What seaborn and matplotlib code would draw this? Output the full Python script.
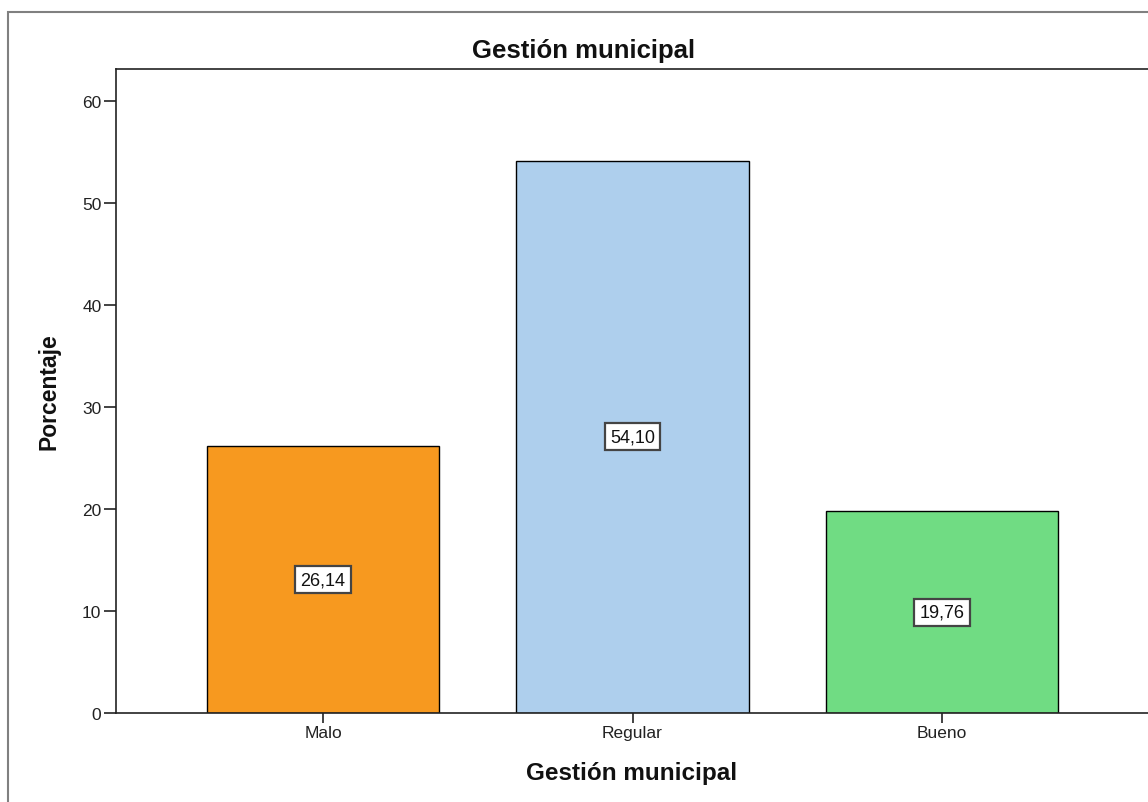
import matplotlib
matplotlib.use("Agg")
import matplotlib.pyplot as plt
import matplotlib.patches as mpatches
import seaborn as sns
import pandas as pd

# Data
categorias = ["Malo", "Regular", "Bueno"]
porcentajes = [26.14, 54.10, 19.76]
colores = ["#F7991F", "#AECFED", "#70DC83"]
y_ticks = [0, 10, 20, 30, 40, 50, 60]

df = pd.DataFrame({"categoria": categorias, "porcentaje": porcentajes})

sns.set_theme(style="white")
plt.rcParams["font.family"] = ["Liberation Sans", "DejaVu Sans"]

W, H = 1148, 803
fig = plt.figure(figsize=(W / 100, H / 100), dpi=100)
ax = fig.add_axes([116 / W, 1 - 714 / H, (1149 - 116) / W, (714 - 70) / H])

sns.barplot(data=df, x="categoria", y="porcentaje", hue="categoria",
            palette=colores, order=categorias, hue_order=categorias,
            width=0.75, edgecolor="black", linewidth=1.0, saturation=1,
            legend=False, ax=ax)

ax.set_xlim(-0.669, 2.669)
ax.set_ylim(0, 63.1)
ax.set_yticks(y_ticks)
ax.set_yticklabels([str(v) for v in y_ticks])
ax.set_xlabel("")
ax.set_ylabel("")

for side in ["left", "top", "bottom", "right"]:
    ax.spines[side].set_color("#222222")
    ax.spines[side].set_linewidth(1.2)

ax.tick_params(axis="y", which="major", direction="out", length=9, width=1.2,
               color="#222222", labelsize=12.5, labelcolor="#222222", pad=1.5, left=True)
ax.tick_params(axis="x", which="major", direction="out", length=7, width=1.2,
               color="#222222", labelsize=12.5, labelcolor="#222222", pad=2, bottom=True)

# value labels in boxes at mid-height of each bar
for i, v in enumerate(porcentajes):
    ax.text(i, v / 2, f"{v:.2f}".replace(".", ","), ha="center", va="center",
            fontsize=13, color="#111111",
            bbox=dict(boxstyle="square,pad=0.28", fc="white", ec="#444444", lw=1.6))

# titles
fig.text(584 / W, 1 - 51 / H, "Gestión municipal", ha="center", va="center",
         fontsize=18.5, fontweight="bold", color="#111111")
fig.text(632 / W, 1 - 774 / H, "Gestión municipal", ha="center", va="center",
         fontsize=17.5, fontweight="bold", color="#111111")
fig.text(49 / W, 1 - 392 / H, "Porcentaje", ha="center", va="center",
         rotation=90, fontsize=16.5, fontweight="bold", color="#111111")

# outer chart frame
frame = mpatches.Rectangle((8 / W, -0.1), 1.2, 1 - 13 / H + 0.1,
                           transform=fig.transFigure, fill=False,
                           ec="#808080", lw=1.5, clip_on=False)
fig.patches.append(frame)

fig.savefig("out.png", dpi=100)
